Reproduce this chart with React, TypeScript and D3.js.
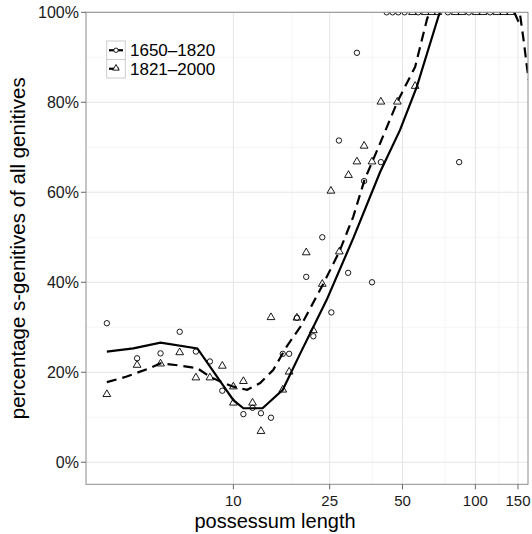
import React from 'react';
import * as d3 from 'd3';

// 1650-1820 (open circles)
const circleX = [3, 4, 5, 6, 7, 8, 9, 11, 12, 13, 14.3, 16, 17, 18.3, 20, 21.4, 23.3, 25.4, 27.3, 29.8, 32.4, 34.7, 37.4, 40.7, 85.7];
const circleY = [30.9, 23.1, 24.2, 29.0, 24.6, 22.4, 15.9, 10.7, 12.1, 10.9, 9.9, 24.1, 24.1, 32.1, 41.2, 28.0, 50, 33.3, 71.5, 42.1, 91.0, 62.5, 40.0, 66.7, 66.7];
// 1821-2000 (open triangles)
const triangleX = [3, 4, 5, 6, 7, 8, 9, 10, 10, 11, 12, 13, 14.3, 16, 17, 18.3, 20, 21.4, 23.3, 25.3, 27.4, 29.9, 32.4, 34.7, 37.4, 40.7, 47.6, 56.4];
const triangleY = [15.1, 21.6, 21.9, 24.4, 18.8, 18.8, 21.4, 16.8, 13.2, 18.0, 13.2, 6.9, 32.2, 16.1, 20.1, 32.1, 46.6, 29.3, 39.6, 60.3, 46.8, 63.8, 66.8, 70.3, 66.8, 80.1, 80.1, 83.6];
// points sitting on 100%
const circleTopX = [43, 45.5, 48, 51, 58, 77, 94, 115];
const triangleTopX = [55, 62, 66, 70, 82.5, 88, 100.7, 107.6, 122.8, 131, 140];

// smoothed trends
const solidX = [3, 3.86, 5, 7.1, 10, 11, 13.2, 16, 18.9, 24.3, 31.3, 40.4, 48.8, 57.3, 70.2, 78, 100, 130, 143.5, 150.7];
const solidY = [24.6, 25.3, 26.6, 25.3, 13.8, 12, 12, 16.1, 24.2, 36.1, 49.8, 64.5, 73.8, 83.5, 98.9, 106, 118, 110, 100.5, 97.9];
const dashX = [3, 3.6, 4.5, 5, 6, 7.1, 8, 9.1, 10, 11.4, 12.9, 14.6, 16.6, 18.9, 23.5, 27.4, 31.3, 34.8, 40.4, 47.6, 56.4, 63, 70, 100, 140, 153, 159, 163.2, 166];
const dashY = [17.8, 19, 20.9, 22, 21.5, 20.9, 19, 17.6, 16.8, 16.1, 17.6, 20.5, 25.7, 30.1, 39.6, 46.8, 54.6, 62.7, 70.9, 80.1, 87.9, 98.3, 106, 118, 110, 99.5, 93, 88, 85];

const xTicks = [10, 25, 50, 100, 150];
const xMinor = [17.5, 37.5, 75, 125];
const yTicks = [0, 20, 40, 60, 80, 100];
const yMinor = [10, 30, 50, 70, 90];
const seriesNames = ['1650\u20131820', '1821\u20132000'];

const W = 532;
const H = 534;
const panel = { left: 86, right: 528, top: 12.3, bottom: 484.3 };
const font = '"Liberation Sans", Arial, Helvetica, sans-serif';

const App = () => {
  const x = d3.scaleLog().domain([2.46, 165]).range([panel.left, panel.right]);
  const y = d3.scaleLinear().domain([-4.9, 100]).range([panel.bottom, panel.top]);

  const line = d3.line<[number, number]>()
    .x(d => x(d[0]))
    .y(d => y(d[1]));
  const solidPts = solidX.map((v, i) => [v, solidY[i]] as [number, number]);
  const dashPts = dashX.map((v, i) => [v, dashY[i]] as [number, number]);

  const tri = d3.symbol(d3.symbolTriangle, 26)() as string;

  const circles = circleX.map((v, i) => [v, circleY[i]]).concat(circleTopX.map(v => [v, 100]));
  const triangles = triangleX.map((v, i) => [v, triangleY[i]]).concat(triangleTopX.map(v => [v, 100]));

  return (
    <svg width={W} height={H} style={{ position: 'absolute', left: 0, top: 0, background: '#fff' }} fontFamily={font}>
      <defs>
        <clipPath id="panel-clip">
          <rect x={panel.left} y={panel.top} width={panel.right - panel.left} height={panel.bottom - panel.top} />
        </clipPath>
      </defs>
      <rect x={panel.left} y={panel.top} width={panel.right - panel.left} height={panel.bottom - panel.top} fill="#fff" />

      {/* grid */}
      {yMinor.map(t => (
        <line key={'ym' + t} x1={panel.left} x2={panel.right} y1={y(t)} y2={y(t)} stroke="#f3f3f3" strokeWidth={0.8} />
      ))}
      {xMinor.map(t => (
        <line key={'xm' + t} y1={panel.top} y2={panel.bottom} x1={x(t)} x2={x(t)} stroke="#f3f3f3" strokeWidth={0.8} />
      ))}
      {yTicks.map(t => (
        <line key={'yg' + t} x1={panel.left} x2={panel.right} y1={y(t)} y2={y(t)} stroke="#e5e5e5" strokeWidth={1} />
      ))}
      {xTicks.map(t => (
        <line key={'xg' + t} y1={panel.top} y2={panel.bottom} x1={x(t)} x2={x(t)} stroke="#e5e5e5" strokeWidth={1} />
      ))}

      <g clipPath="url(#panel-clip)">
        {circles.map((d, i) => (
          <circle key={'c' + i} cx={x(d[0])} cy={y(d[1])} r={2.7} fill="none" stroke="#000" strokeWidth={0.9} />
        ))}
        {triangles.map((d, i) => (
          <path key={'t' + i} d={tri} transform={`translate(${x(d[0])},${y(d[1])})`} fill="none" stroke="#000" strokeWidth={0.9} />
        ))}
        <path d={line(solidPts) || ''} fill="none" stroke="#000" strokeWidth={2.2} />
        <path d={line(dashPts) || ''} fill="none" stroke="#000" strokeWidth={2.2} strokeDasharray="10,6" />
      </g>

      {/* border */}
      <rect x={panel.left} y={panel.top} width={panel.right - panel.left} height={panel.bottom - panel.top} fill="none" stroke="#8c8c8c" strokeWidth={1} />

      {/* y axis */}
      {yTicks.map(t => (
        <g key={'yt' + t}>
          <line x1={panel.left - 5} x2={panel.left} y1={y(t)} y2={y(t)} stroke="#666" strokeWidth={1} />
          <text x={panel.left - 7} y={y(t)} dy="0.36em" textAnchor="end" fontSize={16} fill="#1a1a1a">{t}%</text>
        </g>
      ))}
      {/* x axis */}
      {xTicks.map(t => (
        <g key={'xt' + t}>
          <line x1={x(t)} x2={x(t)} y1={panel.bottom} y2={panel.bottom + 5} stroke="#666" strokeWidth={1} />
          <text x={x(t)} y={505.5} textAnchor="middle" fontSize={15} fill="#1a1a1a">{t}</text>
        </g>
      ))}

      <text x={275} y={528} textAnchor="middle" fontSize={20} fill="#000">possessum length</text>
      <text transform={`translate(25,${(panel.top + panel.bottom) / 2}) rotate(-90)`} textAnchor="middle" fontSize={20.5} fill="#000">
        percentage s-genitives of all genitives
      </text>

      {/* legend */}
      {seriesNames.map((name, i) => {
        const top = 41 + i * 18.5;
        const cy = top + 9.25;
        return (
          <g key={name}>
            <rect x={106.7} y={top} width={18.6} height={18.5} fill="#fff" stroke="#cccccc" strokeWidth={1} />
            <line x1={109} x2={123} y1={cy} y2={cy} stroke="#000" strokeWidth={2.2} strokeDasharray={i === 1 ? '10,6' : undefined} />
            {i === 0 ? (
              <circle cx={116} cy={cy} r={2.2} fill="#fff" stroke="#000" strokeWidth={0.9} />
            ) : (
              <path d={d3.symbol(d3.symbolTriangle, 18)() as string} transform={`translate(116,${cy - 0.5})`} fill="#fff" stroke="#000" strokeWidth={0.9} />
            )}
            <text x={130} y={cy} dy="0.36em" fontSize={17} fill="#000">{name}</text>
          </g>
        );
      })}
    </svg>
  );
};

export default App;
